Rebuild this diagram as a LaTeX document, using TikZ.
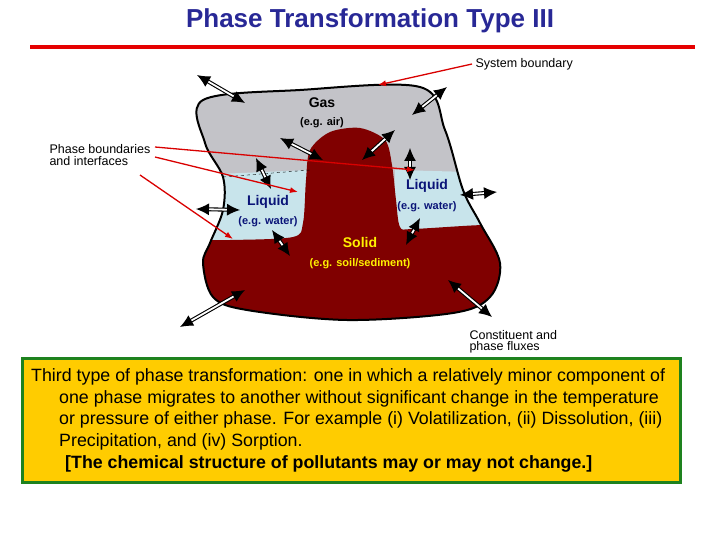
\documentclass[tikz,border=0pt]{standalone}
\usepackage{fontspec}
\setmainfont{Liberation Sans}
\usetikzlibrary{arrows.meta}
\definecolor{ttl}{RGB}{40,40,150}
\definecolor{solidc}{RGB}{128,0,0}
\definecolor{gasc}{RGB}{195,195,200}
\definecolor{liqc}{RGB}{200,228,235}
\definecolor{lblue}{RGB}{10,20,120}
\definecolor{boxy}{RGB}{255,204,0}
\definecolor{boxg}{RGB}{30,130,30}
\tikzset{
  flux/.style={double=white, double distance=1.8pt, line width=1.1pt, {Latex[length=13pt,width=12pt]}-{Latex[length=13pt,width=12pt]}},
  redarr/.style={red!85!black, line width=1.3pt, -{Latex[length=8pt,width=6pt]}},
  lab/.style={font=\fontsize{14}{15}\selectfont\bfseries},
  labs/.style={font=\fontsize{11}{12}\selectfont\bfseries},
  note/.style={font=\fontsize{12.5}{13.5}\selectfont, align=left, anchor=west}
}
\def\outer{plot[smooth cycle, tension=0.55] coordinates {(203,100) (300,90) (420,87) (445,130) (463,190) (480,223) (500,263) (490,297) (453,313) (347,320) (247,310) (213,297) (203,263) (210,243) (223,210) (223,177) (205,143)}}
\begin{document}
\begin{tikzpicture}[x=1pt,y=-1pt]
\useasboundingbox (0,0) rectangle (720,540);
\node (title) at (370,21) {\fontsize{26}{30}\selectfont\bfseries\color{ttl}Phase Transformation Type III};
\draw[red!90!black, line width=4pt] (30,47) -- (695,47);
\fill[gasc] \outer;
\begin{scope}
\clip \outer;
\fill[liqc] (150,177) -- (310,170) -- (310,330) -- (150,330) -- cycle;
\fill[liqc] (395,170) -- (470,172) -- (550,172) -- (550,330) -- (395,330) -- cycle;
\fill[solidc] plot[smooth, tension=0.5] coordinates {(150,240) (230,240) (293,237) (303,223) (306,180) (310,150) (330,132) (360,128) (385,140) (392,165) (396,200) (400,227) (413,229) (483,225) (550,225)} -- (550,340) -- (150,340) -- cycle;
\end{scope}
\draw[dashed, thin] (223,177) -- (310,170);
\draw[line width=2pt] \outer;
% texts in diagram
\node[lab] (gas) at (322,103) {Gas};
\node[labs] (gasx) at (322,123) {(e.g. air)};
\node[lab, lblue] (liqr) at (427,186) {Liquid};
\node[labs, lblue] (liqrx) at (427,207) {(e.g. water)};
\node[lab, lblue] (liql) at (268,202) {Liquid};
\node[labs, lblue] (liqlx) at (268,222) {(e.g. water)};
\node[lab, yellow] (sol) at (360,242) {Solid};
\node[labs, yellow] (solx) at (360,264) {(e.g. soil/sediment)};
% flux arrows
\coordinate (a1) at (197,75); \coordinate (b1) at (245,103);
\coordinate (a2) at (447,87); \coordinate (b2) at (412,115);
\coordinate (a3) at (280,138); \coordinate (b3) at (323,160);
\coordinate (a4) at (395,130); \coordinate (b4) at (362,160);
\coordinate (a5) at (410,148); \coordinate (b5) at (410,180);
\coordinate (a6) at (256,158); \coordinate (b6) at (271,189);
\coordinate (a7) at (460,195); \coordinate (b7) at (497,192);
\coordinate (a8) at (196,209); \coordinate (b8) at (240,210);
\coordinate (a9) at (272,230); \coordinate (b9) at (290,256);
\coordinate (a10) at (420,218); \coordinate (b10) at (406,245);
\coordinate (a11) at (180,327); \coordinate (b11) at (245,290);
\coordinate (a12) at (448,280); \coordinate (b12) at (492,317);
\foreach \i in {1,...,12} {\draw[flux] (a\i) -- (b\i);}
% labels and red pointers
\node[note] (sysb) at (472,64) {System boundary};
\node[note] (pb) at (46,155) {Phase boundaries\\[-2pt]and interfaces};
\node[note] (cf) at (466,342) {Constituent and\\[-2pt]phase fluxes};
\coordinate (p1) at (378,85); \coordinate (p2) at (415,170); \coordinate (p3) at (298,192); \coordinate (p4) at (233,239);
\draw[redarr] (sysb.west) -- (p1);
\draw[redarr] (155,147) -- (p2);
\draw[redarr] (155,157) -- (p3);
\draw[redarr] (140,175) -- (p4);
% text box
\draw[boxg, line width=3pt, fill=boxy] (22,358) rectangle (680,482);
\node[anchor=north west, inner sep=0pt, font=\fontsize{17.8}{21.7}\selectfont] (txt) at (31,366) {%
\begin{tabular}{@{}l@{}}
Third type of phase transformation: one in which a relatively minor component of\\
\hspace{28pt}one phase migrates to another without significant change in the temperature\\
\hspace{28pt}or pressure of either phase. For example (i) Volatilization, (ii) Dissolution, (iii)\\
\hspace{28pt}Precipitation, and (iv) Sorption.\\
\hspace{34pt}\textbf{[The chemical structure of pollutants may or may not change.]}
\end{tabular}};
\end{tikzpicture}
\end{document}
